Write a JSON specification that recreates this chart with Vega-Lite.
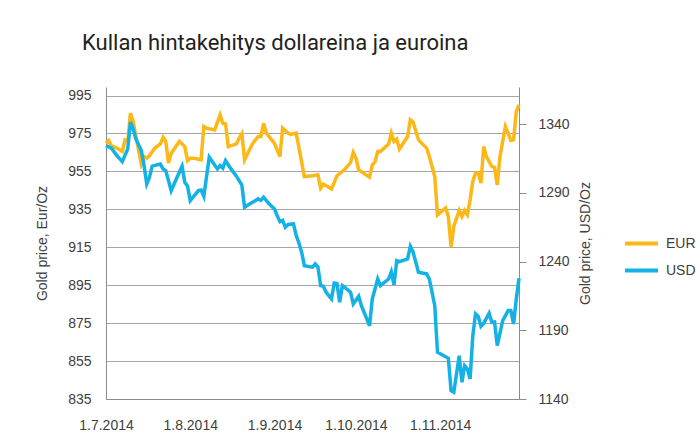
{
"$schema":"https://vega.github.io/schema/vega-lite/v6.json",
"width":413,"height":312,
"autosize":{"type":"none"},
"padding":{"left":106,"top":87,"right":181,"bottom":40},
"background":"white",
"title":{"text":"Kullan hintakehitys dollareina ja euroina","anchor":"start","frame":"group","dx":-24,"offset":32,"fontSize":22,"font":"Roboto","fontWeight":"normal","color":"#222222"},
"config":{"view":{"stroke":null},"axis":{"labelFont":"Liberation Sans","titleFont":"Liberation Sans","labelFontSize":14,"titleFontSize":14,"titleFontWeight":"normal","labelColor":"#404040","titleColor":"#404040","domainColor":"#8c8c8c","tickColor":"#8c8c8c","gridColor":"#a6a6a6"},"legend":{"labelFont":"Liberation Sans","labelFontSize":14,"labelColor":"#404040"}},
"data":{"values":[
{"d":"2014/07/01","s":"EUR","p":969.8},{"d":"2014/07/02","s":"EUR","p":971.3},{"d":"2014/07/03","s":"EUR","p":968.5},{"d":"2014/07/05","s":"EUR","p":967.3},{"d":"2014/07/07","s":"EUR","p":965.5},{"d":"2014/07/08","s":"EUR","p":971.6},{"d":"2014/07/09","s":"EUR","p":971.0},{"d":"2014/07/10","s":"EUR","p":985.7},{"d":"2014/07/11","s":"EUR","p":981.3},{"d":"2014/07/12","s":"EUR","p":973.4},{"d":"2014/07/14","s":"EUR","p":959.0},{"d":"2014/07/15","s":"EUR","p":962.8},{"d":"2014/07/16","s":"EUR","p":962.0},{"d":"2014/07/17","s":"EUR","p":963.2},{"d":"2014/07/19","s":"EUR","p":967.3},{"d":"2014/07/21","s":"EUR","p":969.5},{"d":"2014/07/22","s":"EUR","p":972.9},{"d":"2014/07/23","s":"EUR","p":970.8},{"d":"2014/07/24","s":"EUR","p":959.4},{"d":"2014/07/25","s":"EUR","p":964.6},{"d":"2014/07/28","s":"EUR","p":970.8},{"d":"2014/07/30","s":"EUR","p":968.1},{"d":"2014/07/31","s":"EUR","p":960.7},{"d":"2014/08/01","s":"EUR","p":962.0},{"d":"2014/08/02","s":"EUR","p":962.0},{"d":"2014/08/05","s":"EUR","p":961.1},{"d":"2014/08/06","s":"EUR","p":978.7},{"d":"2014/08/07","s":"EUR","p":977.8},{"d":"2014/08/10","s":"EUR","p":976.9},{"d":"2014/08/12","s":"EUR","p":984.8},{"d":"2014/08/13","s":"EUR","p":980.4},{"d":"2014/08/14","s":"EUR","p":980.0},{"d":"2014/08/15","s":"EUR","p":968.1},{"d":"2014/08/18","s":"EUR","p":969.5},{"d":"2014/08/19","s":"EUR","p":972.5},{"d":"2014/08/20","s":"EUR","p":974.8},{"d":"2014/08/21","s":"EUR","p":961.1},{"d":"2014/08/24","s":"EUR","p":969.8},{"d":"2014/08/26","s":"EUR","p":973.4},{"d":"2014/08/27","s":"EUR","p":973.4},{"d":"2014/08/28","s":"EUR","p":980.4},{"d":"2014/08/29","s":"EUR","p":975.2},{"d":"2014/09/01","s":"EUR","p":969.8},{"d":"2014/09/03","s":"EUR","p":962.8},{"d":"2014/09/04","s":"EUR","p":977.8},{"d":"2014/09/06","s":"EUR","p":975.2},{"d":"2014/09/07","s":"EUR","p":974.5},{"d":"2014/09/09","s":"EUR","p":975.2},{"d":"2014/09/12","s":"EUR","p":952.3},{"d":"2014/09/15","s":"EUR","p":952.7},{"d":"2014/09/17","s":"EUR","p":953.2},{"d":"2014/09/18","s":"EUR","p":946.2},{"d":"2014/09/19","s":"EUR","p":948.3},{"d":"2014/09/22","s":"EUR","p":945.7},{"d":"2014/09/24","s":"EUR","p":952.7},{"d":"2014/09/27","s":"EUR","p":956.2},{"d":"2014/09/29","s":"EUR","p":959.7},{"d":"2014/09/30","s":"EUR","p":965.0},{"d":"2014/10/01","s":"EUR","p":962.0},{"d":"2014/10/02","s":"EUR","p":955.8},{"d":"2014/10/06","s":"EUR","p":952.0},{"d":"2014/10/07","s":"EUR","p":958.5},{"d":"2014/10/08","s":"EUR","p":960.0},{"d":"2014/10/09","s":"EUR","p":965.5},{"d":"2014/10/10","s":"EUR","p":965.5},{"d":"2014/10/13","s":"EUR","p":969.4},{"d":"2014/10/14","s":"EUR","p":975.2},{"d":"2014/10/15","s":"EUR","p":970.8},{"d":"2014/10/16","s":"EUR","p":972.0},{"d":"2014/10/17","s":"EUR","p":966.8},{"d":"2014/10/20","s":"EUR","p":973.4},{"d":"2014/10/21","s":"EUR","p":982.2},{"d":"2014/10/22","s":"EUR","p":981.0},{"d":"2014/10/24","s":"EUR","p":971.6},{"d":"2014/10/27","s":"EUR","p":967.3},{"d":"2014/10/28","s":"EUR","p":962.8},{"d":"2014/10/30","s":"EUR","p":952.3},{"d":"2014/10/31","s":"EUR","p":932.1},{"d":"2014/11/01","s":"EUR","p":933.3},{"d":"2014/11/03","s":"EUR","p":935.7},{"d":"2014/11/04","s":"EUR","p":931.2},{"d":"2014/11/05","s":"EUR","p":915.1},{"d":"2014/11/06","s":"EUR","p":926.0},{"d":"2014/11/08","s":"EUR","p":934.4},{"d":"2014/11/09","s":"EUR","p":931.2},{"d":"2014/11/10","s":"EUR","p":934.4},{"d":"2014/11/11","s":"EUR","p":932.1},{"d":"2014/11/12","s":"EUR","p":940.0},{"d":"2014/11/13","s":"EUR","p":949.7},{"d":"2014/11/14","s":"EUR","p":954.1},{"d":"2014/11/15","s":"EUR","p":954.0},{"d":"2014/11/16","s":"EUR","p":948.8},{"d":"2014/11/17","s":"EUR","p":968.1},{"d":"2014/11/18","s":"EUR","p":962.8},{"d":"2014/11/20","s":"EUR","p":957.6},{"d":"2014/11/21","s":"EUR","p":957.0},{"d":"2014/11/22","s":"EUR","p":947.9},{"d":"2014/11/23","s":"EUR","p":962.8},{"d":"2014/11/25","s":"EUR","p":978.7},{"d":"2014/11/26","s":"EUR","p":975.2},{"d":"2014/11/27","s":"EUR","p":971.3},{"d":"2014/11/28","s":"EUR","p":971.6},{"d":"2014/11/29","s":"EUR","p":986.6},{"d":"2014/11/30","s":"EUR","p":990.1},
{"d":"2014/07/01","s":"USD","p":1324.4},{"d":"2014/07/03","s":"USD","p":1322.5},{"d":"2014/07/05","s":"USD","p":1317.1},{"d":"2014/07/07","s":"USD","p":1312.7},{"d":"2014/07/09","s":"USD","p":1322.0},{"d":"2014/07/10","s":"USD","p":1341.4},{"d":"2014/07/11","s":"USD","p":1336.5},{"d":"2014/07/12","s":"USD","p":1329.2},{"d":"2014/07/14","s":"USD","p":1320.7},{"d":"2014/07/15","s":"USD","p":1309.8},{"d":"2014/07/16","s":"USD","p":1296.5},{"d":"2014/07/17","s":"USD","p":1301.4},{"d":"2014/07/18","s":"USD","p":1309.4},{"d":"2014/07/21","s":"USD","p":1311.0},{"d":"2014/07/22","s":"USD","p":1307.4},{"d":"2014/07/23","s":"USD","p":1306.2},{"d":"2014/07/25","s":"USD","p":1291.6},{"d":"2014/07/27","s":"USD","p":1300.6},{"d":"2014/07/29","s":"USD","p":1309.4},{"d":"2014/07/30","s":"USD","p":1297.7},{"d":"2014/07/31","s":"USD","p":1295.0},{"d":"2014/08/01","s":"USD","p":1284.3},{"d":"2014/08/04","s":"USD","p":1291.6},{"d":"2014/08/05","s":"USD","p":1292.0},{"d":"2014/08/06","s":"USD","p":1287.5},{"d":"2014/08/08","s":"USD","p":1315.9},{"d":"2014/08/11","s":"USD","p":1307.4},{"d":"2014/08/12","s":"USD","p":1309.8},{"d":"2014/08/13","s":"USD","p":1308.0},{"d":"2014/08/14","s":"USD","p":1313.4},{"d":"2014/08/16","s":"USD","p":1307.4},{"d":"2014/08/18","s":"USD","p":1302.1},{"d":"2014/08/20","s":"USD","p":1295.7},{"d":"2014/08/21","s":"USD","p":1279.5},{"d":"2014/08/23","s":"USD","p":1282.0},{"d":"2014/08/26","s":"USD","p":1285.6},{"d":"2014/08/27","s":"USD","p":1284.5},{"d":"2014/08/28","s":"USD","p":1286.8},{"d":"2014/08/30","s":"USD","p":1282.0},{"d":"2014/09/01","s":"USD","p":1278.3},{"d":"2014/09/02","s":"USD","p":1273.4},{"d":"2014/09/03","s":"USD","p":1269.0},{"d":"2014/09/04","s":"USD","p":1270.0},{"d":"2014/09/05","s":"USD","p":1265.0},{"d":"2014/09/06","s":"USD","p":1267.0},{"d":"2014/09/08","s":"USD","p":1267.4},{"d":"2014/09/09","s":"USD","p":1258.9},{"d":"2014/09/10","s":"USD","p":1253.5},{"d":"2014/09/11","s":"USD","p":1246.8},{"d":"2014/09/12","s":"USD","p":1237.0},{"d":"2014/09/15","s":"USD","p":1235.9},{"d":"2014/09/16","s":"USD","p":1238.3},{"d":"2014/09/17","s":"USD","p":1236.0},{"d":"2014/09/18","s":"USD","p":1222.5},{"d":"2014/09/19","s":"USD","p":1222.0},{"d":"2014/09/20","s":"USD","p":1217.7},{"d":"2014/09/22","s":"USD","p":1212.8},{"d":"2014/09/23","s":"USD","p":1224.4},{"d":"2014/09/24","s":"USD","p":1224.0},{"d":"2014/09/25","s":"USD","p":1210.4},{"d":"2014/09/26","s":"USD","p":1222.5},{"d":"2014/09/27","s":"USD","p":1221.0},{"d":"2014/09/29","s":"USD","p":1217.7},{"d":"2014/09/30","s":"USD","p":1209.1},{"d":"2014/10/02","s":"USD","p":1214.7},{"d":"2014/10/03","s":"USD","p":1207.9},{"d":"2014/10/06","s":"USD","p":1193.3},{"d":"2014/10/07","s":"USD","p":1212.8},{"d":"2014/10/09","s":"USD","p":1227.3},{"d":"2014/10/10","s":"USD","p":1222.5},{"d":"2014/10/13","s":"USD","p":1227.3},{"d":"2014/10/14","s":"USD","p":1232.6},{"d":"2014/10/15","s":"USD","p":1223.0},{"d":"2014/10/16","s":"USD","p":1240.7},{"d":"2014/10/17","s":"USD","p":1240.0},{"d":"2014/10/20","s":"USD","p":1241.9},{"d":"2014/10/21","s":"USD","p":1251.1},{"d":"2014/10/22","s":"USD","p":1247.0},{"d":"2014/10/24","s":"USD","p":1232.2},{"d":"2014/10/27","s":"USD","p":1231.0},{"d":"2014/10/28","s":"USD","p":1227.3},{"d":"2014/10/30","s":"USD","p":1207.9},{"d":"2014/10/31","s":"USD","p":1174.0},{"d":"2014/11/04","s":"USD","p":1169.6},{"d":"2014/11/05","s":"USD","p":1146.0},{"d":"2014/11/06","s":"USD","p":1144.9},{"d":"2014/11/08","s":"USD","p":1171.5},{"d":"2014/11/09","s":"USD","p":1152.2},{"d":"2014/11/10","s":"USD","p":1164.2},{"d":"2014/11/11","s":"USD","p":1162.0},{"d":"2014/11/12","s":"USD","p":1154.6},{"d":"2014/11/13","s":"USD","p":1186.1},{"d":"2014/11/14","s":"USD","p":1201.9},{"d":"2014/11/15","s":"USD","p":1200.0},{"d":"2014/11/16","s":"USD","p":1192.9},{"d":"2014/11/17","s":"USD","p":1195.0},{"d":"2014/11/19","s":"USD","p":1202.4},{"d":"2014/11/20","s":"USD","p":1195.8},{"d":"2014/11/21","s":"USD","p":1196.0},{"d":"2014/11/22","s":"USD","p":1178.8},{"d":"2014/11/24","s":"USD","p":1197.0},{"d":"2014/11/26","s":"USD","p":1204.3},{"d":"2014/11/27","s":"USD","p":1204.3},{"d":"2014/11/28","s":"USD","p":1194.6},{"d":"2014/11/29","s":"USD","p":1212.8},{"d":"2014/11/30","s":"USD","p":1227.8}
]},
"encoding":{
"x":{"field":"d","type":"temporal","scale":{"domain":[{"year":2014,"month":7,"date":1},{"year":2014,"month":11,"date":30}]},
"axis":{"title":null,"grid":false,"ticks":false,"labelPadding":19,"format":"%-d.%-m.%Y","values":[{"year":2014,"month":7,"date":1},{"year":2014,"month":8,"date":1},{"year":2014,"month":9,"date":1},{"year":2014,"month":10,"date":1},{"year":2014,"month":11,"date":1}],"labelFlush":false}},
"color":{"field":"s","type":"nominal","scale":{"domain":["EUR","USD"],"range":["#FBB817","#14B1E7"]},
"legend":{"title":null,"orient":"none","legendX":517,"legendY":138,"symbolType":"stroke","symbolSize":1089,"symbolStrokeWidth":4,"labelOffset":6,"rowPadding":0}}
},
"layer":[
{"transform":[{"filter":"datum.s==='EUR'"}],"mark":{"type":"line","strokeWidth":3.5},
"encoding":{"y":{"field":"p","type":"quantitative","scale":{"domain":[835,999.5],"nice":false,"zero":false},
"axis":{"orient":"left","values":[835,855,875,895,915,935,955,975,995],"ticks":false,"labelPadding":15,"title":"Gold price, Eur/Oz","titlePadding":18,"grid":true}}}},
{"transform":[{"filter":"datum.s==='USD'"}],"mark":{"type":"line","strokeWidth":3.5},
"encoding":{"y":{"field":"p","type":"quantitative","scale":{"domain":[1140,1367],"nice":false,"zero":false},
"axis":{"orient":"right","values":[1140,1190,1240,1290,1340],"format":"d","tickSize":7,"labelPadding":12,"title":"Gold price, USD/Oz","titleAngle":270,"titlePadding":23,"grid":false}}}}
],
"resolve":{"scale":{"y":"independent"}}
}
